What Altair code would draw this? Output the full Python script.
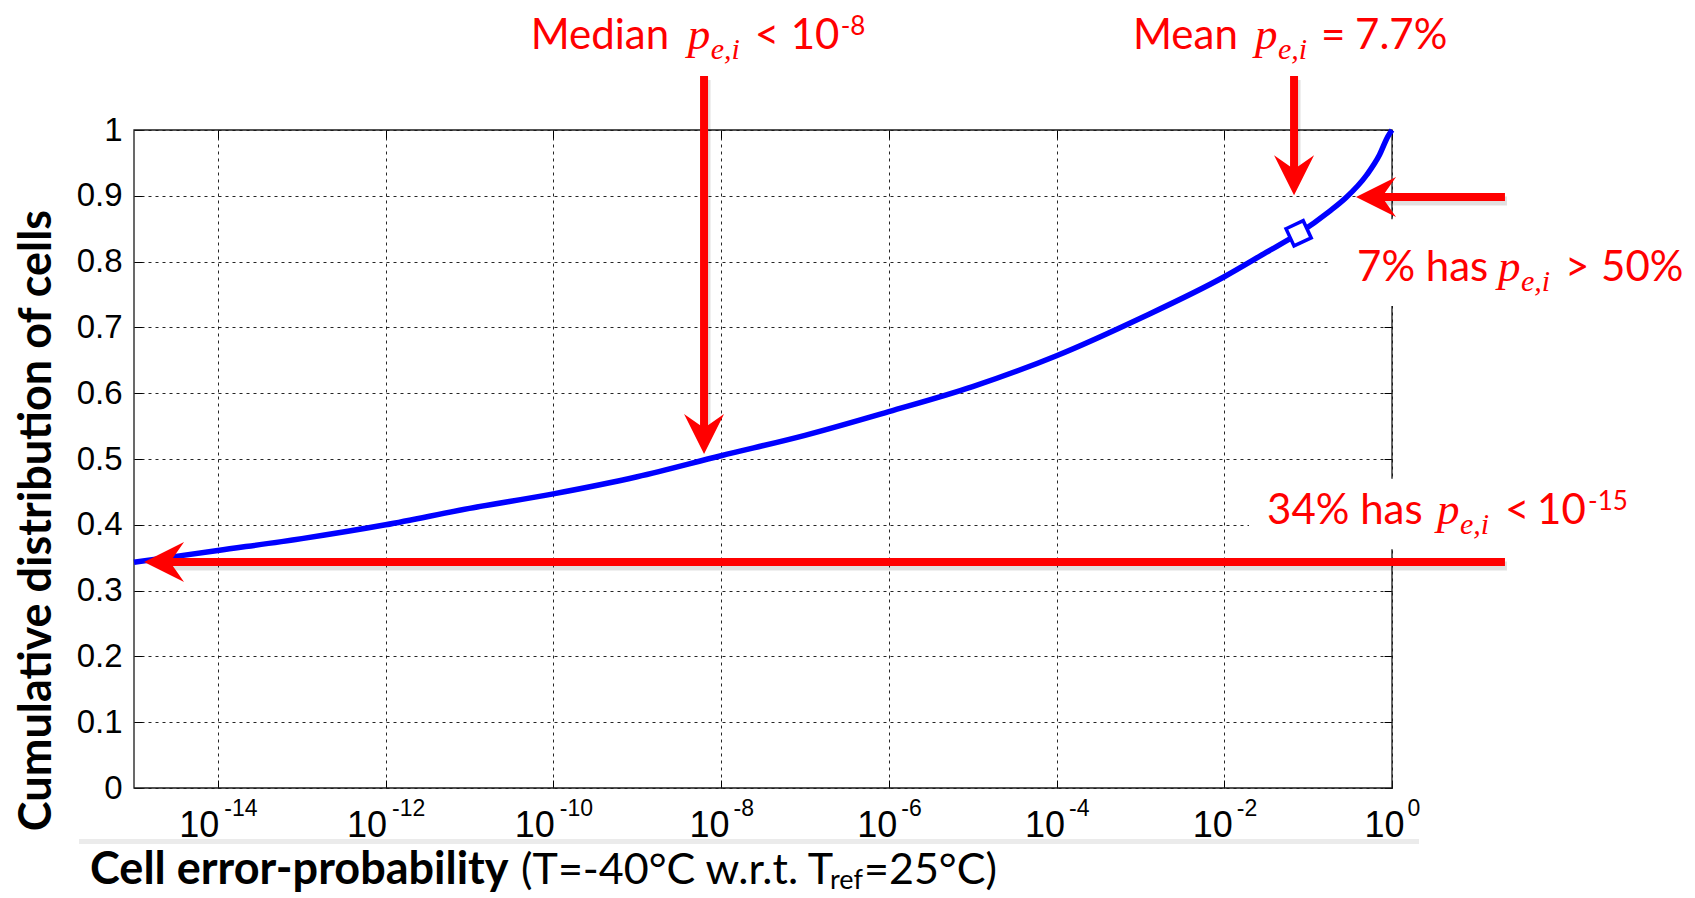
import altair as alt
import pandas as pd

# ---------------- values ----------------
# cumulative distribution of cells vs. cell error-probability (given as exponent of 10)
curve_exp = [-15, -14, -13, -12, -11, -10, -9, -8, -7, -6, -5, -4, -3, -2,
             -1.5, -1.11, -0.75, -0.55, -0.3, -0.15, -0.05, 0]
curve_cdf = [0.343, 0.361, 0.379, 0.400, 0.425, 0.447, 0.473, 0.505, 0.536, 0.572,
             0.610, 0.657, 0.714, 0.777, 0.814, 0.843, 0.876, 0.897, 0.932, 0.962,
             0.990, 1.000]

mean_pe = 0.077          # mean p_e,i = 7.7 %
mean_cdf = 0.843

x_tick_exp = [-14, -12, -10, -8, -6, -4, -2, 0]
y_tick_vals = [0.0, 0.1, 0.2, 0.3, 0.4, 0.5, 0.6, 0.7, 0.8, 0.9, 1.0]
x_domain = [1e-15, 1.0]
y_domain = [0.0, 1.0]

# ---------------- layout helpers ----------------
PLOT_W, PLOT_H = 1258, 658
DECADE_PX = PLOT_W / 15.0
RED, BLUE = "#ff0000", "#0000ff"


def xs(exp, px=0.0):
    """x data value at a given exponent, shifted by px pixels"""
    return 10.0 ** (exp + px / DECADE_PX)


def ys(val, px=0.0):
    """y data value shifted up by px pixels"""
    return val + px / PLOT_H


x_scale = alt.Scale(type="log", domain=x_domain, nice=False)
y_scale = alt.Scale(domain=y_domain, nice=False, zero=False)
x_ticks = [xs(e) for e in x_tick_exp]


def X(field="x", axis=None):
    return alt.X(f"{field}:Q", scale=x_scale, axis=axis)


def Y(field="y", axis=None):
    return alt.Y(f"{field}:Q", scale=y_scale, axis=axis)


GRID = dict(grid=True, gridColor="#000000", gridDash=[3, 4], gridWidth=1, gridOpacity=0.85)


def tick_axis(orient, values):
    return alt.Axis(orient=orient, values=values, offset=-8, ticks=True, tickSize=8,
                    tickColor="#000000", tickWidth=1, labels=False, grid=False,
                    domain=False, title=None)


x_axis_main = alt.Axis(
    orient="bottom", values=x_ticks, ticks=False, tickSize=0, domain=False, **GRID,
    labelExpr="'10'", labelFont="Liberation Sans", labelFontSize=36, labelColor="#000000",
    labelAlign="center", labelBaseline="top", labelPadding=20,
    labelOffset={"expr": "datum.value < 5e-10 ? -19 : (datum.value < 0.5 ? -12 : -8)"},
    labelFlush=False, labelOverlap=False, title=None)

x_axis_exp = alt.Axis(
    orient="bottom", values=x_ticks, ticks=False, tickSize=0, domain=False, grid=False,
    labelExpr="'' + round(log(datum.value) / LN10)", labelFont="Liberation Sans",
    labelFontSize=23, labelColor="#000000", labelAlign="left", labelBaseline="top",
    labelPadding=9,
    labelOffset={"expr": "datum.value < 5e-10 ? 6 : (datum.value < 0.5 ? 12 : 15)"},
    labelFlush=False, labelOverlap=False, title=None)

y_axis_main = alt.Axis(
    orient="left", values=y_tick_vals, ticks=False, tickSize=0, domain=False, **GRID,
    labelExpr="datum.value == 0 ? '0' : (datum.value > 0.999 ? '1' : format(datum.value, '.1f'))",
    labelFont="Liberation Sans", labelFontSize=33, labelColor="#000000", labelPadding=12,
    labelFlush=False, labelOverlap=False,
    title="Cumulative distribution of cells", titleFont="Lato", titleFontWeight="bold",
    titleFontSize=45, titleColor="#000000", titleX=-98, titleY=390, titleAngle=270,
    titleAlign="center", titleBaseline="middle")

# ---------------- marks ----------------
curve_df = pd.DataFrame({"x": [xs(e) for e in curve_exp], "y": curve_cdf})
mean_df = pd.DataFrame({"x": [mean_pe], "y": [mean_cdf]})

frame = alt.Chart(pd.DataFrame({"x": [x_domain[0]], "x2": [x_domain[1]],
                                "y": [y_domain[0]], "y2": [y_domain[1]]})).mark_rect(
    fill="transparent", stroke="#1a1a1a", strokeWidth=1.3).encode(
    x=X(), x2="x2:Q", y=Y(), y2="y2:Q")

band = alt.Chart(pd.DataFrame({"x": [xs(-15.655)], "x2": [xs(0.322)],
                               "y": [ys(0, -53.5)]})).mark_rule(
    color="#ebebeb", strokeWidth=5).encode(x=X(), x2="x2:Q", y=Y())

# white backgrounds of the two text boxes on the right
boxes = alt.Chart(pd.DataFrame({
    "x": [xs(-0.73), xs(-1.705)], "x2": [xs(1.5), xs(1.5)],
    "y": [0.7325, 0.363], "y2": [0.8645, 0.47]})).mark_rect(color="white").encode(
    x=X(), x2="x2:Q", y=Y(), y2="y2:Q")

curve = alt.Chart(curve_df).mark_line(color=BLUE, strokeWidth=5.5, interpolate="monotone").encode(
    x=X(axis=x_axis_main), y=Y(axis=y_axis_main))

diamond = alt.Chart(mean_df).mark_point(
    shape="diamond", size=720, filled=True, fill="white", stroke=BLUE, strokeWidth=3.5,
    opacity=1, angle=20).encode(x=X(axis=x_axis_exp), y=Y(axis=tick_axis("left", y_tick_vals)))

# arrows: start / tip in data space
arrow_rows = [
    # name, x start exp, y start, x tip exp, y tip, angle
    ("median", -8.203, 1.082, -8.203, 0.5076, 0),
    ("mean", -1.168, 1.082, -1.168, 0.901, 0),
    ("over50", 1.347, 0.898, -0.429, 0.898, 90),
    ("below15", 1.347, 0.3435, -14.88, 0.3435, 90),
]
HEAD_BACK = 20  # px of shaft hidden under the head
shaft = pd.DataFrame({
    "x": [xs(r[1]) for r in arrow_rows],
    "y": [r[2] for r in arrow_rows],
    "x2": [xs(r[3], HEAD_BACK if r[5] == 90 else 0) for r in arrow_rows],
    "y2": [ys(r[4], HEAD_BACK if r[5] == 0 else 0) for r in arrow_rows],
})
shadow = pd.DataFrame({
    "x": [xs(r[1], 2) for r in arrow_rows],
    "y": [ys(r[2], -4) for r in arrow_rows],
    "x2": [xs(r[3], (HEAD_BACK if r[5] == 90 else 0) + 2) for r in arrow_rows],
    "y2": [ys(r[4], (HEAD_BACK if r[5] == 0 else 0) - 4) for r in arrow_rows],
})
heads = pd.DataFrame({
    "x": [xs(r[3]) for r in arrow_rows],
    "y": [r[4] for r in arrow_rows],
    "angle": [r[5] for r in arrow_rows],
})

shadows = alt.Chart(shadow).mark_rule(color="#000000", opacity=0.12, strokeWidth=9).encode(
    x=X(axis=tick_axis("bottom", x_ticks)), x2="x2:Q",
    y=Y(axis=tick_axis("right", y_tick_vals)), y2="y2:Q")

shafts = alt.Chart(shaft).mark_rule(color=RED, strokeWidth=8, strokeCap="butt").encode(
    x=X(axis=tick_axis("top", x_ticks)), x2="x2:Q", y=Y(), y2="y2:Q")

ARROW_PATH = "M0,0 L-1,-2 L0,-1.3 L1,-2 Z"
arrowheads = alt.Chart(heads).mark_point(
    shape=ARROW_PATH, filled=True, size=1600, color=RED, opacity=1, strokeWidth=0).encode(
    x=X(), y=Y(), angle=alt.Angle("angle:Q", scale=None))

# ---------------- texts ----------------
anchors = {
    "median": (-10.27, ys(1.0, 739 - 658)),
    "mean": (-3.088, ys(1.0, 739 - 658)),
    "over50": (-0.417, 0.771),
    "below15": (-1.49, 0.401),
    "xtitle": (-15.524, -0.146),
}
pieces = [
    ("median", "Median", 0, "reg"), ("median", "p", 157, "it"), ("median", "e,i", 180, "sub"),
    ("median", "<", 224, "reg"), ("median", "10", 260, "reg"), ("median", "-8", 310, "sup"),
    ("mean", "Mean", 0, "reg"), ("mean", "p", 122, "it"), ("mean", "e,i", 145, "sub"),
    ("mean", "=", 188, "reg"), ("mean", "7.7%", 222, "reg"),
    ("over50", "7% has", 0, "reg"), ("over50", "p", 141, "it"), ("over50", "e,i", 164, "sub"),
    ("over50", ">", 208, "reg"), ("over50", "50%", 244, "reg"),
    ("below15", "34% has", 0, "reg"), ("below15", "p", 170, "it"), ("below15", "e,i", 193, "sub"),
    ("below15", "<", 238, "reg"), ("below15", "10", 270, "reg"), ("below15", "-15", 321, "sup"),
    ("xtitle", "Cell error-probability", 0, "tbold"), ("xtitle", "(T=-40°C w.r.t. T", 431, "treg"),
    ("xtitle", "ref", 740, "tsub"), ("xtitle", "=25°C)", 774, "treg"),
]
styles = {
    "reg": dict(font="Lato", fontSize=42, color=RED, dy=0),
    "it": dict(font="Liberation Serif", fontSize=45, fontStyle="italic", color=RED, dy=0),
    "sub": dict(font="Liberation Serif", fontSize=30, fontStyle="italic", color=RED, dy=10),
    "sup": dict(font="Lato", fontSize=26, color=RED, dy=-14),
    "tbold": dict(font="Lato", fontSize=45, fontWeight="bold", color="#000000", dy=0),
    "treg": dict(font="Lato", fontSize=43, color="#000000", dy=0),
    "tsub": dict(font="Lato", fontSize=27, color="#000000", dy=5),
}
text_layers = []
for key, st in styles.items():
    rows = [p for p in pieces if p[3] == key]
    df = pd.DataFrame({
        "text": [p[1] for p in rows],
        "x": [xs(anchors[p[0]][0], p[2]) for p in rows],
        "y": [anchors[p[0]][1] for p in rows],
    })
    text_layers.append(
        alt.Chart(df).mark_text(align="left", baseline="alphabetic", **st).encode(
            x=X(), y=Y(), text="text:N"))

chart = alt.layer(band, frame, boxes, curve, diamond, shadows, shafts, arrowheads,
                  *text_layers).resolve_axis(x="independent", y="independent").properties(
    width=PLOT_W, height=PLOT_H,
    padding={"left": 126, "top": 122, "right": 295, "bottom": 110},
    autosize=alt.AutoSizeParams(type="none"),
    background="white",
).configure_view(stroke="transparent")

chart.save("out.html", embed_options={"renderer": "svg", "actions": False})
